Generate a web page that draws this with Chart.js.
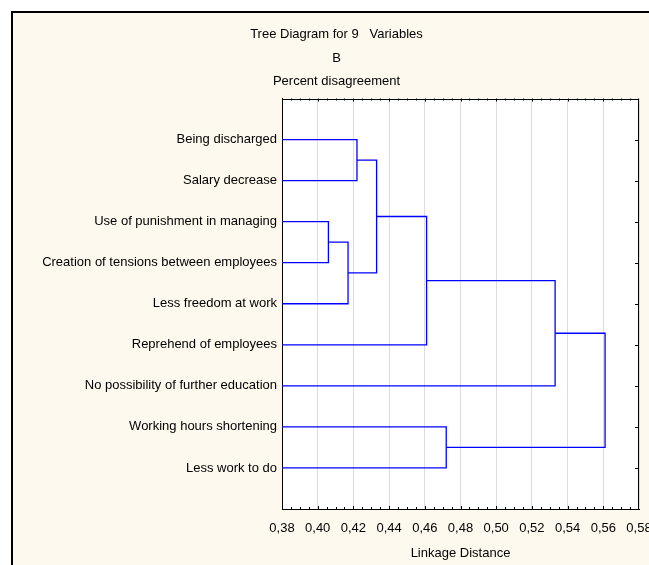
<!DOCTYPE html>
<html>
<head>
<meta charset="utf-8">
<title>Tree Diagram for 9 Variables</title>
<script src="https://cdn.jsdelivr.net/npm/chart.js@4.4.1/dist/chart.umd.min.js"></script>
<style>
    body { margin: 0; background: #fff; overflow: hidden; }
    #moldura {
        position: absolute; left: 11px; top: 11px;
        width: 647px; height: 600px;
        border: 2px solid #000; background: #fef9ee;
    }
    #graficoArvore { display: block; }
</style>
</head>
<body>
<div id="moldura"><canvas id="graficoArvore" width="647" height="552"></canvas></div>
<script>
const variaveis = [
    'Being discharged',
    'Salary decrease',
    'Use of punishment in managing',
    'Creation of tensions between employees',
    'Less freedom at work',
    'Reprehend of employees',
    'No possibility of further education',
    'Working hours shortening',
    'Less work to do'
];
// leaves are 0..8, every join gets the next id (9, 10, ...) in this order
const juntaA = [2, 9, 0, 11, 12, 7, 13, 15];
const juntaB = [3, 4, 1, 10, 5, 8, 6, 14];
const distancia = [0.406, 0.417, 0.422, 0.433, 0.461, 0.472, 0.533, 0.561];
const ticksX = [0.38, 0.40, 0.42, 0.44, 0.46, 0.48, 0.50, 0.52, 0.54, 0.56, 0.58];

const titulo = ['Tree Diagram for 9   Variables', 'B', 'Percent disagreement'];
const tituloX = 'Linkage Distance';

// position (row) and height of every cluster, leaves sit on the axis
const posicao = variaveis.map((v, i) => i);
const altura = variaveis.map(() => ticksX[0]);
const datasets = [];
juntaA.forEach((a, k) => {
    const b = juntaB[k];
    const d = distancia[k];
    datasets.push({
        data: [
            { x: altura[a], y: posicao[a] },
            { x: d, y: posicao[a] },
            { x: d, y: posicao[b] },
            { x: altura[b], y: posicao[b] }
        ],
        showLine: true,
        borderColor: '#0000ff',
        borderWidth: 1.3,
        pointRadius: 0,
        fill: false
    });
    posicao.push((posicao[a] + posicao[b]) / 2);
    altura.push(d);
});

// white plot area, top/right frame and the small tick marks
const molduraPlugin = {
    id: 'moldura',
    beforeDraw(chart) {
        const { ctx, chartArea: a } = chart;
        ctx.save();
        ctx.fillStyle = '#fff';
        ctx.fillRect(a.left, a.top, a.right - a.left, a.bottom - a.top);
        ctx.restore();
    },
    afterDraw(chart) {
        const { ctx, chartArea: a, scales } = chart;
        ctx.save();
        ctx.strokeStyle = '#000';
        ctx.lineWidth = 1;
        ctx.beginPath();
        ctx.moveTo(a.left, Math.round(a.top) + 0.5);
        ctx.lineTo(a.right, Math.round(a.top) + 0.5);
        ctx.moveTo(Math.round(a.right) - 0.5, a.top);
        ctx.lineTo(Math.round(a.right) - 0.5, a.bottom);
        ticksX.forEach((t, i) => {
            if (i === ticksX.length - 1) return;
            const passo = (ticksX[i + 1] - t) / 4;
            for (let s = 0; s < 4; s++) {
                const x = Math.round(scales.x.getPixelForValue(t + s * passo)) + 0.5;
                const len = s === 0 ? 3 : 2;
                ctx.moveTo(x, a.top);
                ctx.lineTo(x, a.top + len);
                ctx.moveTo(x, a.bottom);
                ctx.lineTo(x, a.bottom - len);
            }
        });
        variaveis.forEach((v, i) => {
            const y = Math.round(scales.y.getPixelForValue(i)) + 0.5;
            ctx.moveTo(a.right, y);
            ctx.lineTo(a.right - 4, y);
        });
        ctx.stroke();
        ctx.restore();
    }
};

Chart.defaults.font.family = "'Liberation Sans', Arial, sans-serif";
Chart.defaults.font.size = 13;
Chart.defaults.color = '#000';

const ctx = document.getElementById('graficoArvore').getContext('2d');
new Chart(ctx, {
    type: 'scatter',
    data: { datasets: datasets },
    plugins: [molduraPlugin],
    options: {
        responsive: false,
        animation: false,
        devicePixelRatio: 1,
        layout: { padding: { left: 21, right: 21, top: 0, bottom: 0 } },
        plugins: {
            legend: { display: false },
            tooltip: { enabled: false },
            title: {
                display: true,
                text: titulo,
                color: '#000',
                font: { size: 13, weight: 'normal', lineHeight: 23.5 / 13 },
                padding: { top: 10, bottom: 5 }
            }
        },
        scales: {
            x: {
                type: 'linear',
                min: ticksX[0],
                max: ticksX[ticksX.length - 1],
                afterBuildTicks: scale => {
                    scale.ticks = ticksX.map(v => ({ value: v }));
                },
                afterFit: scale => {
                    scale.height = 56;
                    // let the last label run past the plot, like the original
                    scale.paddingLeft = 0;
                    scale.paddingRight = 0;
                },
                ticks: {
                    padding: 12,
                    maxRotation: 0,
                    autoSkip: false,
                    callback: v => v.toFixed(2).replace('.', ',')
                },
                grid: { color: '#dcdcdc', drawTicks: false },
                border: { color: '#000' },
                title: { display: true, text: tituloX, padding: { top: 5, bottom: 4 } }
            },
            y: {
                type: 'linear',
                min: -1,
                max: variaveis.length,
                reverse: true,
                afterBuildTicks: scale => {
                    scale.ticks = variaveis.map((v, i) => ({ value: i }));
                },
                afterFit: scale => { scale.width = 248; },
                ticks: {
                    padding: 5,
                    autoSkip: false,
                    callback: v => variaveis[v]
                },
                grid: { display: false, drawTicks: false },
                border: { color: '#000' }
            }
        }
    }
});
</script>
</body>
</html>
